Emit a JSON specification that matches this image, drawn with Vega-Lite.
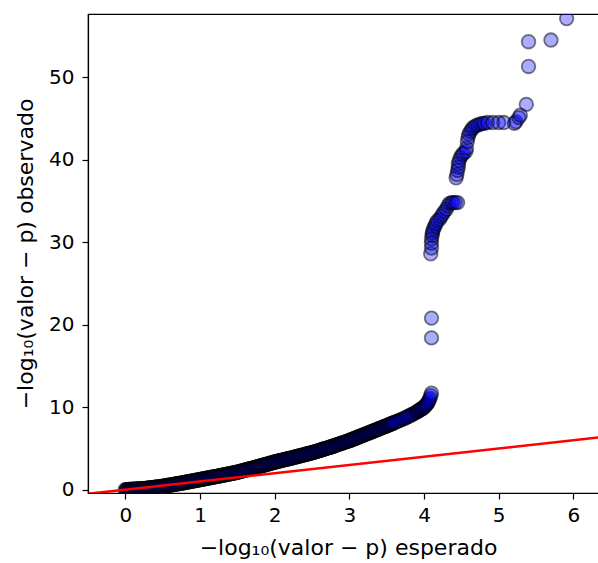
{
"$schema":"https://vega.github.io/schema/vega-lite/v6.json",
"width":520,"height":479,
"autosize":{"type":"none"},
"padding":{"left":88,"top":14,"right":0,"bottom":70},
"background":"white",
"config":{
"view":{"stroke":"black","strokeWidth":1.2},
"axis":{"domainColor":"black","domainWidth":1.2,"tickColor":"black","tickWidth":1.2,"tickSize":6,"grid":false,"labelFont":"DejaVu Sans","labelFontSize":20,"labelColor":"black","titleFont":"DejaVu Sans","titleFontSize":22,"titleFontWeight":"normal","titleColor":"black","labelOverlap":false,"labelFlush":false}
},
"data":{"values":[
{"x":0.00,"y":0.00},{"x":0.01,"y":0.00},{"x":0.02,"y":0.01},{"x":0.03,"y":0.01},{"x":0.04,"y":0.02},{"x":0.05,"y":0.02},{"x":0.06,"y":0.03},{"x":0.07,"y":0.03},{"x":0.08,"y":0.04},{"x":0.09,"y":0.04},
{"x":0.10,"y":0.05},{"x":0.11,"y":0.05},{"x":0.12,"y":0.06},{"x":0.13,"y":0.06},{"x":0.14,"y":0.07},{"x":0.15,"y":0.07},{"x":0.16,"y":0.08},{"x":0.17,"y":0.08},{"x":0.18,"y":0.09},{"x":0.19,"y":0.09},
{"x":0.20,"y":0.10},{"x":0.21,"y":0.10},{"x":0.22,"y":0.11},{"x":0.23,"y":0.11},{"x":0.24,"y":0.12},{"x":0.25,"y":0.12},{"x":0.26,"y":0.13},{"x":0.27,"y":0.14},{"x":0.28,"y":0.15},{"x":0.29,"y":0.17},
{"x":0.30,"y":0.18},{"x":0.31,"y":0.19},{"x":0.32,"y":0.20},{"x":0.33,"y":0.21},{"x":0.34,"y":0.22},{"x":0.35,"y":0.23},{"x":0.36,"y":0.24},{"x":0.37,"y":0.25},{"x":0.38,"y":0.27},{"x":0.39,"y":0.28},
{"x":0.40,"y":0.29},{"x":0.41,"y":0.30},{"x":0.42,"y":0.31},{"x":0.43,"y":0.32},{"x":0.44,"y":0.33},{"x":0.45,"y":0.34},{"x":0.46,"y":0.36},{"x":0.47,"y":0.37},{"x":0.48,"y":0.38},{"x":0.49,"y":0.39},
{"x":0.50,"y":0.40},{"x":0.51,"y":0.42},{"x":0.52,"y":0.43},{"x":0.53,"y":0.45},{"x":0.54,"y":0.46},{"x":0.55,"y":0.48},{"x":0.56,"y":0.50},{"x":0.57,"y":0.51},{"x":0.58,"y":0.53},{"x":0.59,"y":0.54},
{"x":0.60,"y":0.56},{"x":0.61,"y":0.58},{"x":0.62,"y":0.59},{"x":0.63,"y":0.61},{"x":0.64,"y":0.62},{"x":0.65,"y":0.64},{"x":0.66,"y":0.66},{"x":0.67,"y":0.67},{"x":0.68,"y":0.69},{"x":0.69,"y":0.70},
{"x":0.70,"y":0.72},{"x":0.71,"y":0.74},{"x":0.72,"y":0.75},{"x":0.73,"y":0.77},{"x":0.74,"y":0.78},{"x":0.75,"y":0.80},{"x":0.76,"y":0.82},{"x":0.77,"y":0.83},{"x":0.78,"y":0.85},{"x":0.79,"y":0.87},
{"x":0.80,"y":0.88},{"x":0.81,"y":0.90},{"x":0.82,"y":0.92},{"x":0.83,"y":0.93},{"x":0.84,"y":0.95},{"x":0.85,"y":0.97},{"x":0.86,"y":0.98},{"x":0.87,"y":1.00},{"x":0.88,"y":1.02},{"x":0.89,"y":1.04},
{"x":0.90,"y":1.05},{"x":0.91,"y":1.07},{"x":0.92,"y":1.09},{"x":0.93,"y":1.10},{"x":0.94,"y":1.12},{"x":0.95,"y":1.14},{"x":0.96,"y":1.15},{"x":0.97,"y":1.17},{"x":0.98,"y":1.19},{"x":0.99,"y":1.20},
{"x":1.00,"y":1.22},{"x":1.01,"y":1.24},{"x":1.02,"y":1.26},{"x":1.03,"y":1.27},{"x":1.04,"y":1.29},{"x":1.05,"y":1.31},{"x":1.06,"y":1.33},{"x":1.07,"y":1.34},{"x":1.08,"y":1.36},{"x":1.09,"y":1.38},
{"x":1.10,"y":1.40},{"x":1.11,"y":1.41},{"x":1.12,"y":1.43},{"x":1.13,"y":1.45},{"x":1.14,"y":1.47},{"x":1.15,"y":1.48},{"x":1.16,"y":1.50},{"x":1.17,"y":1.52},{"x":1.18,"y":1.54},{"x":1.19,"y":1.55},
{"x":1.20,"y":1.57},{"x":1.21,"y":1.59},{"x":1.22,"y":1.61},{"x":1.23,"y":1.62},{"x":1.24,"y":1.64},{"x":1.25,"y":1.66},{"x":1.26,"y":1.68},{"x":1.27,"y":1.70},{"x":1.28,"y":1.72},{"x":1.29,"y":1.73},
{"x":1.30,"y":1.75},{"x":1.31,"y":1.77},{"x":1.32,"y":1.79},{"x":1.33,"y":1.81},{"x":1.34,"y":1.83},{"x":1.35,"y":1.84},{"x":1.36,"y":1.86},{"x":1.37,"y":1.88},{"x":1.38,"y":1.90},{"x":1.39,"y":1.92},
{"x":1.40,"y":1.94},{"x":1.41,"y":1.95},{"x":1.42,"y":1.97},{"x":1.43,"y":1.99},{"x":1.44,"y":2.01},{"x":1.45,"y":2.03},{"x":1.46,"y":2.05},{"x":1.47,"y":2.06},{"x":1.48,"y":2.08},{"x":1.49,"y":2.10},
{"x":1.50,"y":2.12},{"x":1.51,"y":2.14},{"x":1.52,"y":2.17},{"x":1.53,"y":2.19},{"x":1.54,"y":2.22},{"x":1.55,"y":2.24},{"x":1.56,"y":2.26},{"x":1.57,"y":2.29},{"x":1.58,"y":2.31},{"x":1.59,"y":2.34},
{"x":1.60,"y":2.36},{"x":1.61,"y":2.38},{"x":1.62,"y":2.41},{"x":1.63,"y":2.43},{"x":1.64,"y":2.46},{"x":1.65,"y":2.48},{"x":1.66,"y":2.50},{"x":1.67,"y":2.53},{"x":1.68,"y":2.55},{"x":1.69,"y":2.58},
{"x":1.70,"y":2.60},{"x":1.71,"y":2.62},{"x":1.72,"y":2.65},{"x":1.73,"y":2.67},{"x":1.74,"y":2.70},{"x":1.75,"y":2.72},{"x":1.76,"y":2.75},{"x":1.77,"y":2.77},{"x":1.78,"y":2.80},{"x":1.79,"y":2.82},
{"x":1.80,"y":2.85},{"x":1.81,"y":2.87},{"x":1.82,"y":2.90},{"x":1.83,"y":2.92},{"x":1.84,"y":2.95},{"x":1.85,"y":2.97},{"x":1.86,"y":3.00},{"x":1.87,"y":3.02},{"x":1.88,"y":3.05},{"x":1.89,"y":3.07},
{"x":1.90,"y":3.10},{"x":1.91,"y":3.12},{"x":1.92,"y":3.15},{"x":1.93,"y":3.17},{"x":1.94,"y":3.20},{"x":1.95,"y":3.22},{"x":1.96,"y":3.25},{"x":1.97,"y":3.27},{"x":1.98,"y":3.30},{"x":1.99,"y":3.32},
{"x":2.00,"y":3.35},{"x":2.01,"y":3.37},{"x":2.02,"y":3.39},{"x":2.03,"y":3.42},{"x":2.04,"y":3.44},{"x":2.05,"y":3.46},{"x":2.06,"y":3.48},{"x":2.07,"y":3.50},{"x":2.08,"y":3.53},{"x":2.09,"y":3.55},
{"x":2.10,"y":3.57},{"x":2.11,"y":3.59},{"x":2.12,"y":3.61},{"x":2.13,"y":3.64},{"x":2.14,"y":3.66},{"x":2.15,"y":3.68},{"x":2.16,"y":3.70},{"x":2.17,"y":3.72},{"x":2.18,"y":3.75},{"x":2.19,"y":3.77},
{"x":2.20,"y":3.79},{"x":2.21,"y":3.81},{"x":2.22,"y":3.83},{"x":2.23,"y":3.86},{"x":2.24,"y":3.88},{"x":2.25,"y":3.90},{"x":2.26,"y":3.92},{"x":2.27,"y":3.95},{"x":2.28,"y":3.97},{"x":2.29,"y":3.99},
{"x":2.30,"y":4.02},{"x":2.31,"y":4.04},{"x":2.32,"y":4.06},{"x":2.33,"y":4.09},{"x":2.34,"y":4.11},{"x":2.35,"y":4.13},{"x":2.36,"y":4.16},{"x":2.37,"y":4.18},{"x":2.38,"y":4.20},{"x":2.39,"y":4.22},
{"x":2.40,"y":4.25},{"x":2.41,"y":4.27},{"x":2.42,"y":4.29},{"x":2.43,"y":4.32},{"x":2.44,"y":4.34},{"x":2.45,"y":4.36},{"x":2.46,"y":4.39},{"x":2.47,"y":4.41},{"x":2.48,"y":4.43},{"x":2.49,"y":4.46},
{"x":2.50,"y":4.48},{"x":2.51,"y":4.51},{"x":2.52,"y":4.54},{"x":2.53,"y":4.56},{"x":2.54,"y":4.59},{"x":2.55,"y":4.62},{"x":2.56,"y":4.65},{"x":2.57,"y":4.68},{"x":2.58,"y":4.70},{"x":2.59,"y":4.73},
{"x":2.60,"y":4.76},{"x":2.61,"y":4.79},{"x":2.62,"y":4.82},{"x":2.63,"y":4.84},{"x":2.64,"y":4.87},{"x":2.65,"y":4.90},{"x":2.66,"y":4.93},{"x":2.67,"y":4.96},{"x":2.68,"y":4.98},{"x":2.69,"y":5.01},
{"x":2.70,"y":5.04},{"x":2.71,"y":5.07},{"x":2.72,"y":5.10},{"x":2.73,"y":5.12},{"x":2.74,"y":5.15},{"x":2.75,"y":5.18},{"x":2.76,"y":5.21},{"x":2.77,"y":5.24},{"x":2.78,"y":5.27},{"x":2.79,"y":5.30},
{"x":2.80,"y":5.33},{"x":2.81,"y":5.36},{"x":2.82,"y":5.40},{"x":2.83,"y":5.43},{"x":2.84,"y":5.46},{"x":2.85,"y":5.49},{"x":2.86,"y":5.52},{"x":2.87,"y":5.55},{"x":2.88,"y":5.58},{"x":2.89,"y":5.61},
{"x":2.90,"y":5.64},{"x":2.91,"y":5.67},{"x":2.92,"y":5.70},{"x":2.93,"y":5.73},{"x":2.94,"y":5.77},{"x":2.95,"y":5.80},{"x":2.96,"y":5.83},{"x":2.97,"y":5.86},{"x":2.98,"y":5.89},{"x":2.99,"y":5.92},
{"x":3.00,"y":5.95},{"x":3.01,"y":5.99},{"x":3.02,"y":6.02},{"x":3.03,"y":6.06},{"x":3.04,"y":6.09},{"x":3.05,"y":6.13},{"x":3.06,"y":6.17},{"x":3.07,"y":6.20},{"x":3.08,"y":6.24},{"x":3.09,"y":6.27},
{"x":3.10,"y":6.31},{"x":3.11,"y":6.35},{"x":3.12,"y":6.38},{"x":3.13,"y":6.42},{"x":3.14,"y":6.45},{"x":3.15,"y":6.49},{"x":3.16,"y":6.53},{"x":3.17,"y":6.56},{"x":3.18,"y":6.60},{"x":3.19,"y":6.63},
{"x":3.20,"y":6.67},{"x":3.21,"y":6.71},{"x":3.22,"y":6.74},{"x":3.23,"y":6.78},{"x":3.24,"y":6.81},{"x":3.25,"y":6.85},{"x":3.26,"y":6.89},{"x":3.27,"y":6.92},{"x":3.28,"y":6.96},{"x":3.29,"y":6.99},
{"x":3.30,"y":7.03},{"x":3.31,"y":7.07},{"x":3.32,"y":7.10},{"x":3.33,"y":7.14},{"x":3.34,"y":7.17},{"x":3.35,"y":7.21},{"x":3.36,"y":7.25},{"x":3.37,"y":7.28},{"x":3.38,"y":7.32},{"x":3.39,"y":7.35},
{"x":3.40,"y":7.39},{"x":3.41,"y":7.43},{"x":3.42,"y":7.46},{"x":3.43,"y":7.50},{"x":3.44,"y":7.53},{"x":3.45,"y":7.57},{"x":3.46,"y":7.61},{"x":3.47,"y":7.64},{"x":3.48,"y":7.68},{"x":3.49,"y":7.71},
{"x":3.50,"y":7.75},{"x":3.51,"y":7.79},{"x":3.52,"y":7.83},{"x":3.53,"y":7.87},{"x":3.54,"y":7.90},{"x":3.55,"y":7.94},{"x":3.56,"y":7.98},{"x":3.57,"y":8.02},{"x":3.58,"y":8.05},{"x":3.59,"y":8.09},
{"x":3.60,"y":8.13},{"x":3.62,"y":8.21},{"x":3.64,"y":8.28},{"x":3.66,"y":8.36},{"x":3.68,"y":8.43},
{"x":3.70,"y":8.51},{"x":3.72,"y":8.59},{"x":3.74,"y":8.66},{"x":3.76,"y":8.75},{"x":3.78,"y":8.84},{"x":3.80,"y":8.93},{"x":3.82,"y":9.03},{"x":3.84,"y":9.12},{"x":3.86,"y":9.21},{"x":3.88,"y":9.31},
{"x":3.90,"y":9.40},{"x":3.91,"y":9.46},{"x":3.92,"y":9.52},{"x":3.93,"y":9.58},{"x":3.94,"y":9.64},{"x":3.95,"y":9.70},{"x":3.96,"y":9.76},{"x":3.97,"y":9.82},{"x":3.98,"y":9.88},{"x":3.99,"y":9.94},
{"x":4.00,"y":10.0},{"x":4.01,"y":10.1},{"x":4.02,"y":10.2},{"x":4.03,"y":10.3},{"x":4.04,"y":10.4},{"x":4.05,"y":10.5},{"x":4.06,"y":10.7},{"x":4.07,"y":10.9},{"x":4.08,"y":11.1},{"x":4.09,"y":11.4},
{"x":4.10,"y":11.7},
{"x":4.10,"y":18.4},{"x":4.10,"y":20.8},
{"x":4.09,"y":28.6},{"x":4.10,"y":29.3},{"x":4.10,"y":29.9},{"x":4.10,"y":30.4},{"x":4.11,"y":30.8},{"x":4.11,"y":31.1},{"x":4.12,"y":31.4},{"x":4.13,"y":31.7},{"x":4.15,"y":32.0},{"x":4.16,"y":32.3},
{"x":4.18,"y":32.6},{"x":4.21,"y":32.8},{"x":4.23,"y":33.1},{"x":4.25,"y":33.4},{"x":4.27,"y":33.7},{"x":4.30,"y":34.0},{"x":4.32,"y":34.4},{"x":4.34,"y":34.7},{"x":4.37,"y":34.8},{"x":4.39,"y":34.8},
{"x":4.42,"y":34.8},{"x":4.45,"y":34.8},
{"x":4.43,"y":37.8},{"x":4.44,"y":38.2},{"x":4.45,"y":38.7},{"x":4.46,"y":39.1},{"x":4.46,"y":39.5},{"x":4.47,"y":39.9},{"x":4.49,"y":40.3},{"x":4.51,"y":40.6},{"x":4.53,"y":40.8},{"x":4.56,"y":41.0},
{"x":4.57,"y":41.4},{"x":4.58,"y":42.2},{"x":4.59,"y":42.7},{"x":4.60,"y":43.1},{"x":4.62,"y":43.4},{"x":4.64,"y":43.7},{"x":4.66,"y":43.9},{"x":4.69,"y":44.1},{"x":4.72,"y":44.2},{"x":4.75,"y":44.3},
{"x":4.78,"y":44.4},{"x":4.81,"y":44.4},{"x":4.85,"y":44.5},{"x":4.92,"y":44.5},{"x":5.00,"y":44.5},{"x":5.07,"y":44.5},{"x":5.21,"y":44.4},{"x":5.23,"y":44.6},{"x":5.27,"y":45.1},{"x":5.29,"y":45.4},
{"x":5.37,"y":46.7},{"x":5.40,"y":51.3},{"x":5.40,"y":54.3},{"x":5.70,"y":54.5},{"x":5.91,"y":57.1}
]},
"encoding":{
"x":{"field":"x","type":"quantitative","scale":{"domain":[-0.5,6.464],"nice":false,"zero":false},"axis":{"values":[0,1,2,3,4,5,6],"title":"−log₁₀(valor − p) esperado","labelPadding":6,"titlePadding":12}},
"y":{"field":"y","type":"quantitative","scale":{"domain":[-0.4,57.66],"nice":false,"zero":false},"axis":{"values":[0,10,20,30,40,50],"title":"−log₁₀(valor − p) observado","labelPadding":8,"titlePadding":11}}
},
"layer":[
{"mark":{"type":"point","shape":"circle","filled":true,"fill":"#0000ff","stroke":"#000000","opacity":1,"fillOpacity":0.33,"strokeOpacity":0.5,"strokeWidth":1.8,"size":185,"clip":true}},
{"data":{"values":[{"x":-1,"y":-1},{"x":7,"y":7}]},"mark":{"type":"line","color":"#ff0000","strokeWidth":2.5,"clip":true}}
]
}
